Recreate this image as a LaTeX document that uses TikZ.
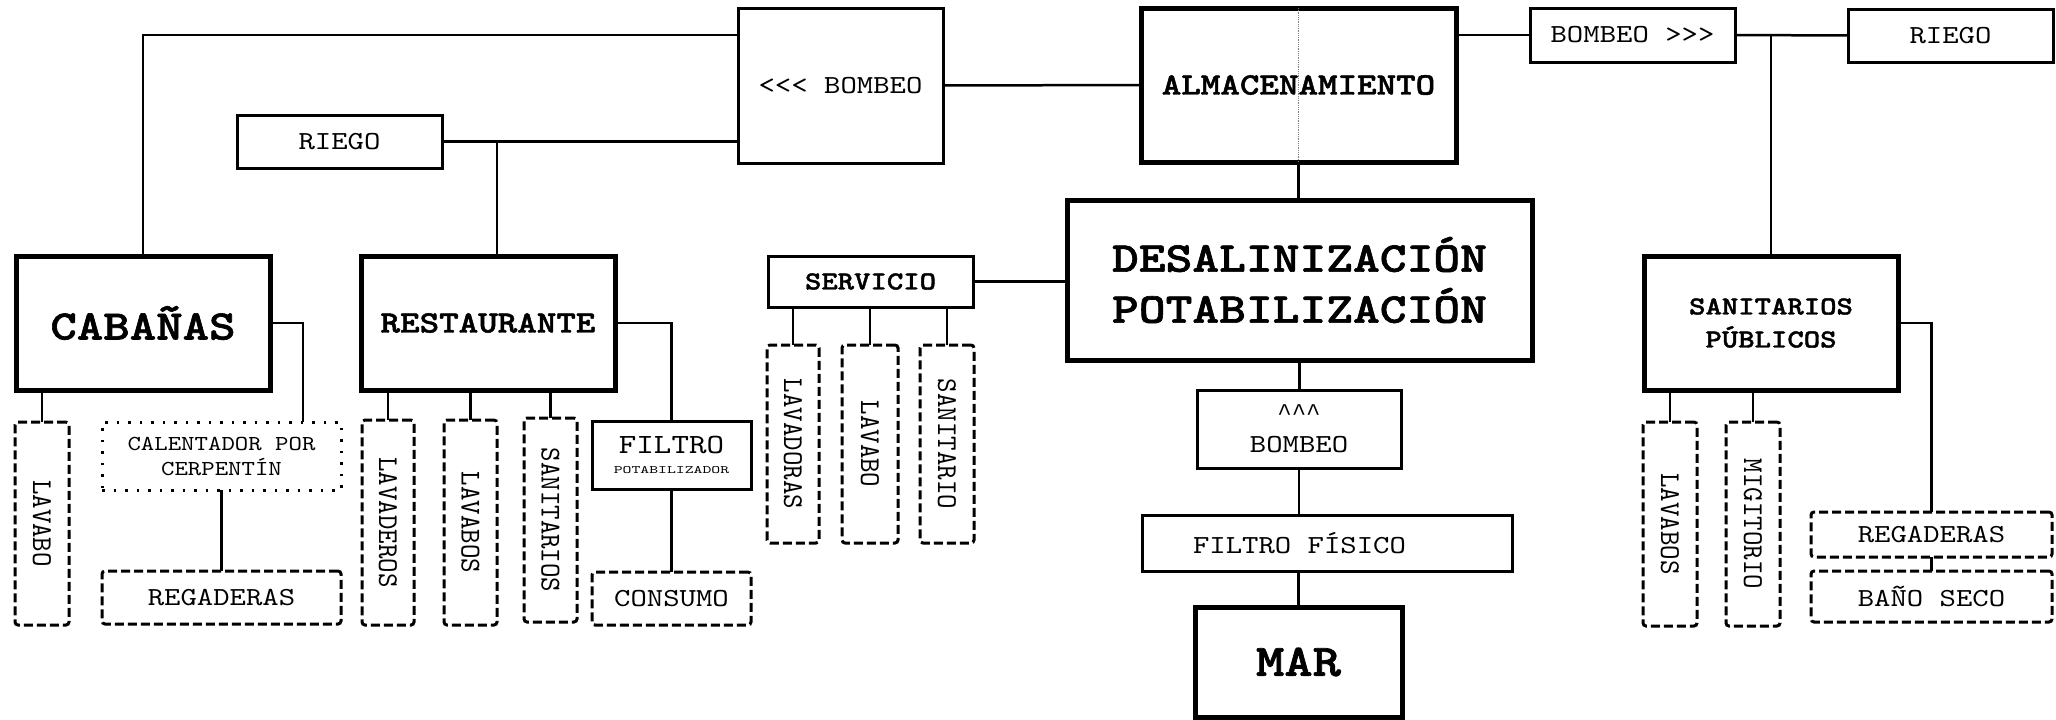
\documentclass[tikz,border=0pt]{standalone}
\usepackage{fontspec}
\usepackage{graphicx}
\newfontfamily\cm{lmmono10-regular}[Extension=.otf, FakeStretch=1.2, BoldFont=lmmonolt10-bold, BoldFeatures={FakeBold=1.5}]
\newfontfamily\lmono{Liberation Mono}
\usetikzlibrary{calc}
\newcommand\fs[2]{\fontsize{#1}{#2}\selectfont}
\newcommand\vtext[1]{\rotatebox{-90}{\scalebox{1}[1.25]{\cm\fs{23}{23}#1}}}
\tikzset{
  every node/.style={inner sep=0pt, outer sep=0pt, align=center, text=black},
  thickbox/.style={draw, line width=5pt},
  medbox/.style={draw, line width=3pt},
  dbox/.style={draw, line width=3pt, dash pattern=on 9pt off 4pt, rounded corners=3pt},
  dotbox/.style={draw, line width=3pt, dash pattern=on 2.5pt off 9pt},
  conn/.style={line width=2.5pt},
  thinconn/.style={line width=2pt},
  nw/.style={anchor=north west},
  sz/.style 2 args={minimum width=#1pt, minimum height=#2pt},
  rf/.style={font={\cm\fs{26}{31}}},
}
\begin{document}
\begin{tikzpicture}[x=1pt,y=-1pt]
\useasboundingbox (0,0) rectangle (2056,720);

% main boxes
\node[medbox,nw,sz={205}{155},rf] (bombL) at (738,8) {<{}<{}< BOMBEO};
\node[medbox,nw,sz={205}{53},rf] (riegoL) at (237,115) {RIEGO};
\node[thickbox,nw,sz={254}{134},font={\cm\bfseries\fs{42}{48}}] (cab) at (16,256) {CABAÑAS};
\node[thickbox,nw,sz={254}{134},font={\cm\bfseries\fs{31}{36}}] (rest) at (361,256) {RESTAURANTE};
\node[thickbox,nw,sz={315}{154},font={\cm\bfseries\fs{31}{36}}] (alm) at (1141,8) {ALMACENAMIENTO};
\node[thickbox,nw,sz={465}{160},font={\cm\bfseries\fs{42.5}{51}}] (desal) at (1067,200) {DESALINIZACIÓN\\POTABILIZACIÓN};
\node[medbox,nw,sz={205}{51},font={\cm\bfseries\fs{26}{31}}] (serv) at (768,256) {SERVICIO};
\node[medbox,nw,sz={205}{54},rf] (bombR) at (1530,8) {BOMBEO >{}>{}>};
\node[medbox,nw,sz={205}{53},rf] (riegoR) at (1848,9) {RIEGO};
\node[thickbox,nw,sz={254}{134},font={\cm\bfseries\fs{26}{33}}] (sanp) at (1644,256) {SANITARIOS\\PÚBLICOS};

% cabañas group
\node[dbox,nw,sz={54}{203}] (lavaboC) at (15,422) {\vtext{LAVABO}};
\node[dotbox,nw,sz={239}{68},font={\cm\fs{21.3}{25}}] (calent) at (102,422) {CALENTADOR POR\\CERPENTÍN};
\node[dbox,nw,sz={239}{53},rf] (regC) at (102,571) {REGADERAS};

% restaurante group
\node[dbox,nw,sz={52}{205}] (lavad) at (362,420) {\vtext{LAVADEROS}};
\node[dbox,nw,sz={53}{205}] (lavabosR) at (444,420) {\vtext{LAVABOS}};
\node[dbox,nw,sz={53}{204}] (sanR) at (524,418) {\vtext{SANITARIOS}};
\node[medbox,nw,sz={159}{68},font={\cm\fs{27.8}{20}}] (filtro) at (592,421) {FILTRO\\\scalebox{1}[0.8]{\cm\fs{14.1}{15}POTABILIZADOR}};
\node[dbox,nw,sz={159}{53},rf] (consumo) at (592,572) {CONSUMO};

% servicio group
\node[dbox,nw,sz={52}{198}] (lavadoras) at (767,345) {\vtext{LAVADORAS}};
\node[dbox,nw,sz={56}{198}] (lavaboS) at (842,345) {\vtext{LAVABO}};
\node[dbox,nw,sz={54}{198}] (sanit) at (920,345) {\vtext{SANITARIO}};

% central chain
\node[medbox,nw,sz={204}{78},font={\cm\fs{26}{32}}] (bombU) at (1197,390) {{\lmono\fs{24}{32}\textasciicircum\textasciicircum\textasciicircum}\\BOMBEO};
\node[medbox,nw,sz={370}{56},rf] (ffis) at (1142,515) {FILTRO FÍSICO\hspace*{55pt}};
\node[thickbox,nw,sz={207}{110},font={\cm\bfseries\fs{45}{50}}] (mar) at (1195,607) {MAR};

% sanitarios group
\node[dbox,nw,sz={54}{204}] (lavabosP) at (1643,422) {\vtext{LAVABOS}};
\node[dbox,nw,sz={54}{204}] (migit) at (1726,422) {\vtext{MIGITORIO}};
\node[dbox,nw,sz={241}{45},rf] (regP) at (1811,512) {REGADERAS};
\node[dbox,nw,sz={241}{51},rf] (bano) at (1811,571) {BAÑO SECO};

% faint center line in almacenamiento
\draw[line width=0.8pt, densely dotted, gray] (alm.north) -- (alm.south);

% connectors
\coordinate (j1) at (143,35);
\draw[thinconn] (j1 |- cab.north) -- (j1) -- (j1 -| bombL.west);
\draw[conn] (riegoL.east) -- (riegoL.east -| bombL.west);
\coordinate (j2) at (497,142);
\draw[conn] (j2) -- (j2 |- rest.north);
\draw[conn] (bombL.east) -- (alm.west);
\draw[conn] (alm.south) -- (alm.south |- desal.north);
\draw[conn] (bombR.west) -- (bombR.west -| alm.east);
\draw[conn] (bombR.east) -- (riegoR.west);
\draw[conn] (sanp.north) -- (sanp.north |- bombR.east);
\draw[conn] (serv.east) -- (serv.east -| desal.west);
\foreach \nm in {lavadoras,lavaboS,sanit} \draw[conn] (\nm.north) -- (\nm.north |- serv.south);
\draw[conn] (desal.south) -- (desal.south |- bombU.north);
\draw[conn] (bombU.south) -- (bombU.south |- ffis.north);
\draw[conn] (mar.north) -- (mar.north |- ffis.south);
\coordinate (c1) at (303,323);
\draw[conn] (cab.east) -- (c1 |- cab.east) -- (c1 |- calent.north);
\draw[conn] (lavaboC.north) -- (lavaboC.north |- cab.south);
\draw[conn] (calent.south) -- (calent.south |- regC.north);
\foreach \nm in {lavad,lavabosR,sanR} \draw[conn] (\nm.north) -- (\nm.north |- rest.south);
\draw[conn] (rest.east) -| (filtro.north);
\draw[conn] (filtro.south) -- (filtro.south |- consumo.north);
\foreach \nm in {lavabosP,migit} \draw[conn] (\nm.north) -- (\nm.north |- sanp.south);
\draw[conn] (sanp.east) -| (regP.north);
\draw[conn] (regP.south) -- (bano.north);
\end{tikzpicture}
\end{document}
